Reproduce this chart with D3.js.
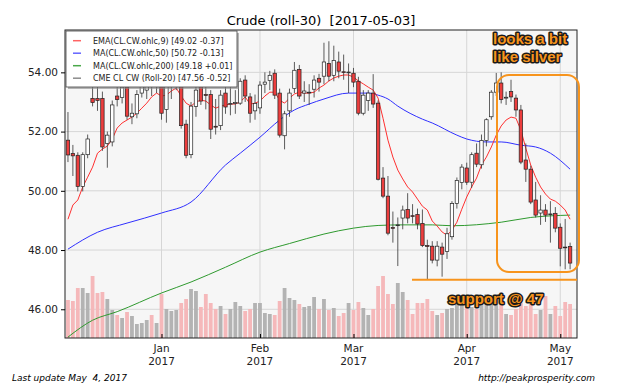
<!DOCTYPE html>
<html>
<head>
<meta charset="utf-8">
<script src="https://cdn.jsdelivr.net/npm/d3@7"></script>
<style>
  body { margin: 0; background: #fff; }
  text { font-family: "DejaVu Sans", sans-serif; }
</style>
</head>
<body>
<svg id="chart" width="640" height="384"></svg>
<script>
let dates = [
  "2016-12-05","2016-12-06","2016-12-07","2016-12-08","2016-12-09","2016-12-12","2016-12-13","2016-12-14","2016-12-15","2016-12-16",
  "2016-12-19","2016-12-20","2016-12-21","2016-12-22","2016-12-23","2016-12-27","2016-12-28","2016-12-29","2016-12-30",
  "2017-01-03","2017-01-04","2017-01-05","2017-01-06","2017-01-09","2017-01-10","2017-01-11","2017-01-12","2017-01-13","2017-01-17",
  "2017-01-18","2017-01-19","2017-01-20","2017-01-23","2017-01-24","2017-01-25","2017-01-26","2017-01-27","2017-01-30","2017-01-31",
  "2017-02-01","2017-02-02","2017-02-03","2017-02-06","2017-02-07","2017-02-08","2017-02-09","2017-02-10","2017-02-13","2017-02-14",
  "2017-02-15","2017-02-16","2017-02-17","2017-02-21","2017-02-22","2017-02-23","2017-02-24","2017-02-27","2017-02-28",
  "2017-03-01","2017-03-02","2017-03-03","2017-03-06","2017-03-07","2017-03-08","2017-03-09","2017-03-10","2017-03-13","2017-03-14",
  "2017-03-15","2017-03-16","2017-03-17","2017-03-20","2017-03-21","2017-03-22","2017-03-23","2017-03-24","2017-03-27","2017-03-28",
  "2017-03-29","2017-03-30","2017-03-31",
  "2017-04-03","2017-04-04","2017-04-05","2017-04-06","2017-04-07","2017-04-10","2017-04-11","2017-04-12","2017-04-13","2017-04-17",
  "2017-04-18","2017-04-19","2017-04-20","2017-04-21","2017-04-24","2017-04-25","2017-04-26","2017-04-27","2017-04-28",
  "2017-05-01","2017-05-02","2017-05-03"]

let opens = [
  51.71,51.26,51.20,50.15,51.22,53.12,53.12,53.12,51.60,51.65,
  53.20,53.15,53.50,52.50,52.60,53.30,53.40,53.95,53.70,53.85,
  52.75,53.55,53.80,53.55,52.25,51.22,52.85,53.55,53.25,53.25,
  52.18,52.20,53.30,52.93,52.96,52.96,53.74,53.17,52.70,52.80,
  53.60,53.72,53.97,53.30,51.86,52.70,53.45,54.10,53.30,53.33,
  53.43,53.80,53.87,54.30,53.90,54.35,54.02,54.00,53.97,53.70,
  52.62,53.05,53.30,52.96,50.43,49.82,48.76,48.83,49.08,49.37,
  49.16,49.20,48.90,48.15,48.13,47.66,48.10,47.95,48.45,49.57,
  50.28,50.77,50.29,51.27,50.88,51.70,52.50,53.33,53.64,53.13,
  53.35,53.13,52.73,51.04,50.73,49.69,49.25,49.35,49.20,49.24,
  48.77,48.10,48.12]
let highs = [
  52.66,51.55,51.30,51.30,51.90,53.60,53.55,53.35,52.00,53.05,
  53.60,53.85,53.70,52.95,53.40,54.10,54.20,54.30,54.20,55.10,
  53.65,54.00,54.30,53.70,52.40,53.00,53.80,53.85,53.60,53.40,
  53.10,53.40,53.50,53.50,53.40,53.80,53.90,53.30,53.25,53.70,
  54.00,54.05,54.10,53.45,52.70,53.45,54.35,54.25,53.70,53.60,
  53.90,53.95,55.00,55.05,54.90,54.70,54.60,54.30,54.15,53.85,
  53.40,53.40,53.94,53.05,50.80,50.50,49.30,49.10,49.50,49.92,
  49.55,49.40,49.37,48.35,48.30,48.30,48.25,48.75,49.65,50.45,
  50.90,50.95,51.30,51.60,51.90,52.45,53.40,53.98,54.00,53.35,
  53.75,53.25,52.90,51.60,50.85,50.30,49.85,49.55,49.65,49.45,
  48.90,49.05,48.25]
let lows = [
  50.97,50.50,49.98,49.98,51.10,52.85,52.70,51.35,50.78,51.50,
  52.85,52.95,52.40,52.25,52.45,53.15,53.10,53.20,53.30,52.40,
  52.30,53.10,53.40,52.10,51.10,51.10,52.50,52.90,52.75,51.75,
  51.90,52.05,52.60,52.55,52.60,52.90,53.00,52.30,52.40,52.60,
  53.30,53.40,53.10,51.80,51.40,52.50,53.30,53.10,53.00,52.90,
  53.15,53.35,53.60,53.70,53.70,53.80,53.75,53.30,53.50,52.55,
  52.55,52.70,52.80,50.35,49.75,48.50,48.25,47.46,48.70,48.90,
  48.90,48.70,48.10,47.02,47.55,47.45,47.10,47.70,48.35,49.40,
  50.05,50.20,50.10,50.80,50.75,51.50,52.40,53.20,52.95,52.90,
  53.00,52.50,50.90,50.30,49.55,49.10,48.85,48.95,48.25,48.60,
  47.45,47.35,47.35]
let closes = [
  51.21,51.18,50.15,51.22,51.75,52.98,53.05,51.48,51.88,52.90,
  53.08,53.50,52.52,52.62,53.25,53.60,53.80,53.75,53.90,52.62,
  53.55,53.85,54.05,52.20,51.20,52.86,53.40,53.03,53.22,52.08,
  52.15,53.23,52.83,52.95,52.98,53.70,53.20,52.62,52.95,53.57,
  53.67,53.90,53.23,51.88,52.60,53.30,54.07,53.20,53.37,53.33,
  53.74,53.67,54.35,53.87,54.40,54.04,54.00,54.01,53.67,52.62,
  53.23,53.30,52.93,50.39,49.82,48.57,48.74,48.85,49.35,49.08,
  49.15,48.88,48.15,48.12,47.66,48.13,47.86,48.55,49.57,50.35,
  50.80,50.29,51.22,50.90,51.70,52.40,53.33,53.64,53.08,53.16,
  53.17,52.73,50.97,50.73,49.62,49.18,49.35,49.18,49.22,48.74,
  48.06,48.08,47.56]

// volume in thousands of contracts
let volumes = [
  380,370,500,500,450,620,450,460,390,280,230,200,260,220,140,150,180,230,150,440,290,270,280,350,390,490,470,
  310,440,350,290,320,240,290,360,320,270,290,350,350,250,240,230,370,500,400,380,340,310,320,410,290,390,
  280,300,220,250,350,280,360,300,230,290,520,620,440,340,550,460,380,240,350,350,390,270,230,250,290,300,
  350,330,310,310,290,380,440,370,390,390,240,230,290,350,320,340,240,280,420,240,320,220,360,340]

let ema9 = [
  49.04,49.52,49.69,50.13,50.46,50.80,51.27,51.41,51.51,51.75,
  52.12,52.29,52.39,52.49,52.62,52.79,52.96,53.17,53.30,53.20,
  53.23,53.37,53.47,53.20,52.96,52.86,53.00,53.06,53.03,52.90,
  52.79,52.86,52.90,52.93,52.93,53.00,53.17,52.93,52.96,53.03,
  53.20,53.33,53.33,53.06,52.96,53.13,53.27,53.33,53.30,53.30,
  53.33,53.47,53.57,53.71,53.81,53.87,53.91,53.91,53.84,53.71,
  53.61,53.50,53.40,53.13,52.45,51.71,51.14,50.70,50.40,50.13,
  49.96,49.72,49.48,49.35,48.98,48.81,48.61,48.50,48.67,48.94,
  49.38,49.79,50.13,50.43,50.87,51.14,51.48,51.88,52.19,52.39,
  52.49,52.45,52.05,51.44,50.87,50.46,50.13,49.89,49.72,49.65,
  49.52,49.35,49.04]

// [candle index, value]
let ma50 = [[0,48.03],[6,48.60],[12,48.91],[19,49.25],[25,49.62],[32,50.87],[35,51.27],[39,51.81],
  [43,52.39],[46,52.73],[49,52.93],[52,53.10],[57,53.30],[61,53.30],[63,53.23],[65,53.10],[67,52.86],
  [72,52.42],[74,52.29],[79,51.88],[81,51.75],[85,51.65],[88,51.65],[92,51.54],[95,51.48],[98,51.27],[102,50.73]]
let ma200 = [[0,45.06],[5,45.63],[10,45.92],[19,46.55],[25,46.92],[32,47.42],[39,47.93],[45,48.22],
  [52,48.54],[58,48.74],[63,48.83],[68,48.85],[74,48.85],[78,48.82],[88,48.94],[94,49.10],[102,49.18]]

let tickLabels = ["Jan", "Feb", "Mar", "Apr", "May"]
let tickDates = ["2017-01-03", "2017-02-01", "2017-03-01", "2017-04-03", "2017-05-01"]
let yTicks = [46, 48, 50, 52, 54]

let legendLabels = ["EMA(CL.CW.ohlc,9) [49.02 -0.37]", "MA(CL.CW.ohlc,50) [50.72 -0.13]",
  "MA(CL.CW.ohlc,200) [49.18 +0.01]", "CME CL CW (Roll-20) [47.56 -0.52]"]
let legendColors = ["#ff6464", "#6464ff", "#4aa84a", "#8c8c8c"]

let margin = {top: 30, bottom: 46, left: 65, right: 63}
let width = 640
let height = 384
let w = width - (margin.left + margin.right)
let h = height - (margin.top + margin.bottom)
let orange = "#f7941d"

let svg = d3.select("#chart")
let plot = svg.append("g").attr("transform", "translate(" + margin.left + "," + margin.top + ")")

let xScale = d3.scaleLinear().domain([-0.6, dates.length + 0.4]).range([0, w])
let yScale = d3.scaleLinear().domain([45.03, 55.43]).range([h, 0])
let vScale = d3.scaleLinear().domain([0, 1000]).range([h, h - 100])

let tickIdx = tickDates.map(d => dates.indexOf(d))

plot.append("rect").attr("width", w).attr("height", h).attr("fill", "#f6f6f6")

// grid
plot.selectAll(".hgrid").data(yTicks).enter().append("line")
    .attr("x1", 0).attr("x2", w)
    .attr("y1", d => yScale(d)).attr("y2", d => yScale(d))
    .attr("stroke", "#d6d6d6")
plot.selectAll(".vgrid").data(tickIdx).enter().append("line")
    .attr("y1", 0).attr("y2", h)
    .attr("x1", d => xScale(d)).attr("x2", d => xScale(d))
    .attr("stroke", "#d6d6d6")

let isDown = i => closes[i] < opens[i]

// volume
plot.selectAll(".vol").data(volumes).enter().append("rect")
    .attr("x", (d, i) => xScale(i) - 1.9)
    .attr("width", 3.8)
    .attr("y", d => vScale(d))
    .attr("height", d => h - vScale(d))
    .attr("fill", (d, i) => isDown(i) ? "#f5b8ba" : "#b3b3b3")

// averages
let line = d3.line().x(d => xScale(d[0])).y(d => yScale(d[1]))
plot.append("path").datum(ma200).attr("d", line.curve(d3.curveMonotoneX))
    .attr("fill", "none").attr("stroke", "#2f9a2f").attr("stroke-width", 1)
plot.append("path").datum(ma50).attr("d", line.curve(d3.curveMonotoneX))
    .attr("fill", "none").attr("stroke", "#3030ff").attr("stroke-width", 1)
plot.append("path").datum(ema9.map((v, i) => [i, v])).attr("d", line.curve(d3.curveLinear))
    .attr("fill", "none").attr("stroke", "#ff3030").attr("stroke-width", 1)

// candles
let candles = plot.selectAll(".candle").data(dates).enter().append("g")
candles.append("line")
    .attr("x1", (d, i) => xScale(i)).attr("x2", (d, i) => xScale(i))
    .attr("y1", (d, i) => yScale(highs[i])).attr("y2", (d, i) => yScale(lows[i]))
    .attr("stroke", "#333").attr("stroke-width", 0.8)
candles.append("rect")
    .attr("x", (d, i) => xScale(i) - 1.7)
    .attr("width", 3.4)
    .attr("y", (d, i) => yScale(Math.max(opens[i], closes[i])))
    .attr("height", (d, i) => Math.max(0.8, Math.abs(yScale(opens[i]) - yScale(closes[i]))))
    .attr("fill", (d, i) => isDown(i) ? "#ec3d3d" : "#ffffff")
    .attr("stroke", "#222").attr("stroke-width", 0.7)

// frame
plot.append("rect").attr("width", w).attr("height", h)
    .attr("fill", "none").attr("stroke", "#222").attr("stroke-width", 1)

// axes
let yAxis = plot.append("g")
    .call(d3.axisLeft(yScale).tickValues(yTicks).tickFormat(d3.format(".2f")).tickSize(4).tickPadding(3))
yAxis.select(".domain").remove()
yAxis.selectAll("text").style("font-size", "10.5px").style("font-family", "DejaVu Sans").attr("fill", "#222")

let xAxis = plot.append("g").attr("transform", "translate(0," + h + ")")
    .call(d3.axisBottom(xScale).tickValues(tickIdx).tickFormat("").tickSize(-4))
xAxis.select(".domain").remove()

plot.selectAll(".xlab").data(tickIdx).enter().append("text")
    .attr("x", d => xScale(d)).attr("y", h + 14)
    .attr("text-anchor", "middle").style("font-size", "10.5px").attr("fill", "#222")
    .text((d, i) => tickLabels[i])
plot.selectAll(".xyear").data(tickIdx).enter().append("text")
    .attr("x", d => xScale(d)).attr("y", h + 27)
    .attr("text-anchor", "middle").style("font-size", "10.5px").attr("fill", "#222")
    .text("2017")

// title and footer
svg.append("text")
    .attr("x", margin.left + w / 2).attr("y", 25)
    .attr("text-anchor", "middle").style("font-size", "13px")
    .text("Crude (roll-30) \u00a0[2017-05-03]")
svg.append("text")
    .attr("x", 12).attr("y", 381)
    .style("font-size", "9px").style("font-style", "italic")
    .text("Last update May \u00a04, 2017")
svg.append("text")
    .attr("x", 595).attr("y", 381).attr("text-anchor", "end")
    .style("font-size", "9px").style("font-style", "italic")
    .text("http://peakprosperity.com")

// annotations
let supY = margin.top + yScale(47.0)
svg.append("line")
    .attr("x1", 412).attr("x2", 577).attr("y1", supY).attr("y2", supY)
    .attr("stroke", orange).attr("stroke-width", 2)
svg.append("rect")
    .attr("x", 497).attr("y", 75).attr("width", 82).attr("height", 197)
    .attr("rx", 12).attr("ry", 12)
    .attr("fill", "none").attr("stroke", orange).attr("stroke-width", 2)

let notes = [["looks a bit", 493, 43.5], ["like silver", 493, 61.5], ["support @ 47", 448, 304]]
svg.selectAll(".note").data(notes).enter().append("text")
    .attr("x", d => d[1]).attr("y", d => d[2])
    .style("font-family", "Liberation Sans, Arial, sans-serif")
    .style("font-weight", "bold").style("font-size", "15px")
    .attr("fill", orange).attr("stroke", "#1a1a1a").attr("stroke-width", 3)
    .attr("stroke-linejoin", "round").style("paint-order", "stroke")
    .text(d => d[0])

// legend
let lg = svg.append("g").attr("transform", "translate(66,31)")
lg.append("rect").attr("x", 2).attr("y", 2).attr("width", 171).attr("height", 56)
    .attr("fill", "#888").attr("opacity", 0.6)
lg.append("rect").attr("width", 171).attr("height", 56)
    .attr("fill", "#fff").attr("stroke", "#444").attr("stroke-width", 0.8)
let rows = lg.selectAll(".row").data(legendLabels).enter().append("g")
    .attr("transform", (d, i) => "translate(0," + (9.7 + i * 12.5) + ")")
rows.append("line").attr("x1", 7).attr("x2", 15).attr("y1", 0).attr("y2", 0)
    .attr("stroke", (d, i) => legendColors[i]).attr("stroke-width", 1.5)
rows.append("text").attr("x", 27).attr("y", 3)
    .style("font-size", "8px").attr("fill", "#222")
    .text(d => d)
</script>
</body>
</html>
